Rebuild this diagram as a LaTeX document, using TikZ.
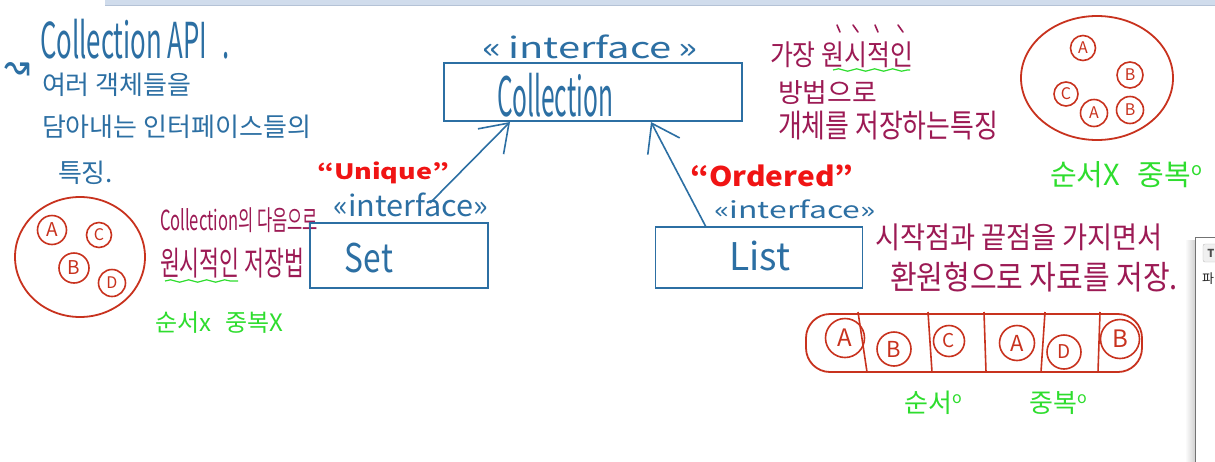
\documentclass[tikz,border=0pt]{standalone}
\usepackage{fontspec}
\usepackage{graphicx}
\setmainfont{Noto Sans CJK KR}
\newfontfamily\djv{DejaVu Sans}
\usetikzlibrary{arrows.meta,decorations.pathmorphing}
\definecolor{hblue}{HTML}{2C6FA3}
\definecolor{hmag}{HTML}{9C1A54}
\definecolor{hred}{HTML}{F01414}
\definecolor{cred}{HTML}{C8321E}
\definecolor{hgreen}{HTML}{2EDD2E}
\definecolor{barfill}{HTML}{D0DCEC}
\definecolor{barline}{HTML}{B4C2D6}
\newcommand{\fsz}[1]{\fontsize{#1}{#1}\selectfont}
\newcommand{\fitto}[3]{\resizebox*{#1pt}{#2pt}{#3}}
\begin{document}
\begin{tikzpicture}[x=1pt,y=-1pt,
  txt/.style={inner sep=0pt,outer sep=0pt},
  bluet/.style={txt,text=hblue},
  magt/.style={txt,text=hmag,anchor=west},
  greent/.style={txt,text=hgreen},
  redt/.style={txt,text=hred},
  umlbox/.style={draw=hblue,line width=1.6pt,inner sep=0pt},
  uarrow/.style={draw=hblue,line width=1.6pt,-{Straight Barb[length=26pt,width=36pt]}},
  blob/.style={draw=cred,line width=1.8pt},
  ci/.style={draw=cred,line width=1.6pt,circle,inner sep=0pt,text=cred,font=\fsz{19}},
  cis/.style={ci,font=\fsz{16}},
  wavy/.style={draw=hgreen,line width=1.2pt,decorate,decoration={snake,amplitude=1.2pt,segment length=18pt}}
]
\useasboundingbox (0,0) rectangle (1215,461);
\fill[white] (0,0) rectangle (1215,461);
% top bar
\fill[barfill] (105,0) rectangle (1215,5);
\draw[barline,line width=1pt] (105,5.5) -- (1215,5.5);

% ---------- left notes ----------
\node[bluet,anchor=west] (capi) at (40,39) {\fitto{190}{40}{Collection API\hspace{6pt}.}};
\node[bluet] (sq) at (18,71) {\fitto{26}{18}{\djv ↝}};
\node[bluet,anchor=west,font=\fsz{26}] (t1) at (42,85) {여러 객체들을};
\node[bluet,anchor=west,font=\fsz{26}] (t2) at (42,127) {담아내는 인터페이스들의};
\node[bluet,anchor=west,font=\fsz{26}] (t3) at (58,173) {특징.};

% left set blob
\draw[blob] (80,257) ellipse [x radius=65, y radius=60];
\node[ci,minimum size=29pt] (la) at (52,230) {A};
\node[cis,minimum size=25pt] (lc) at (99,235) {C};
\node[ci,minimum size=30pt] (lb) at (74,268) {B};
\node[cis,minimum size=27pt] (ld) at (112,283) {D};

\node[magt] (m1) at (160,220) {\fitto{158}{25}{Collection의 다음으로}};
\node[magt] (m2) at (160,263) {\fitto{144}{30}{원시적인 저장법}};
\coordinate (w1a) at (165,281);
\coordinate (w1b) at (238,281);
\draw[wavy] (w1a) -- (w1b);
\node[greent,anchor=west,font=\fsz{24}] (g1) at (155,323) {순서x\hspace{14pt}중복X};

% ---------- UML ----------
\node[umlbox,minimum width=298pt,minimum height=58pt] (coll) at (593,92) {};
\node[bluet] (colltxt) at (555,95) {\fitto{116}{44}{Collection}};
\node[bluet] (collst) at (590,47) {\fitto{215}{24}{«\,interface\,»}};

\node[umlbox,minimum width=178pt,minimum height=65pt] (set) at (399,255.5) {};
\node[bluet] (settxt) at (369,258) {\fitto{48}{30}{Set}};
\node[bluet] (setst) at (411,205) {\fitto{155}{24}{«interface»}};
\node[redt] (uniq) at (383,173) {\fitto{132}{22}{\bfseries “Unique”}};

\node[umlbox,minimum width=207pt,minimum height=61pt] (list) at (759,257.5) {};
\node[bluet] (listtxt) at (760,256) {\fitto{61}{30}{List}};
\node[bluet] (listst) at (795,209) {\fitto{161}{19}{«interface»}};
\node[redt] (ord) at (772,176) {\fitto{163}{22}{\bfseries “Ordered”}};

\coordinate (setTail) at (430,203);
\coordinate (setTip) at (510,122);
\draw[uarrow] (setTail) -- (setTip);
\coordinate (listTail) at (706,227);
\coordinate (listTip) at (651,122);
\draw[uarrow] (listTail) -- (listTip);

% ---------- right top ----------
\node[magt] (r1) at (770,55) {\fitto{143}{26}{가장 원시적인}};
\node[magt] (r2) at (778,93) {\fitto{99}{24}{방법으로}};
\node[magt] (r3) at (778,126) {\fitto{220}{29}{개체를 저장하는특징}};
\foreach \a/\b in {837/840,853/858,875/878,898/903}
  \draw[hmag,line width=1.6pt,line cap=round] (\a,25) -- (\b,32);
\coordinate (w2a) at (833,70);
\coordinate (w2b) at (910,70);
\draw[wavy] (w2a) -- (w2b);

\draw[blob] (1097,78) ellipse [x radius=76, y radius=62];
\node[cis,minimum size=25pt] (ra1) at (1083,48) {A};
\node[cis,minimum size=26pt] (rb1) at (1130,75) {B};
\node[cis,minimum size=24pt] (rc) at (1066,94) {C};
\node[cis,minimum size=27pt] (ra2) at (1094,113) {A};
\node[cis,minimum size=27pt] (rb2) at (1130,110) {B};
\node[greent,anchor=west,font=\fsz{29}] (g2) at (1050,175) {순서X\hspace{18pt}중복\raisebox{0.35em}{\fsz{18}o}};

% ---------- right bottom ----------
\node[magt] (r4) at (875,237) {\fitto{288}{27}{시작점과 끝점을 가지면서}};
\node[magt] (r5) at (890,277) {\fitto{288}{30}{환원형으로 자료를 저장.}};

\draw[blob,rounded corners=24pt] (806,314) rectangle (1142,372);
\foreach \a/\b in {858/867,928/932,984/986,1045/1041,1100/1098}
  \draw[cred,line width=1.6pt] (\a,312) -- (\b,372);
\node[ci,minimum size=39pt,font=\fsz{24}] (ba1) at (845,338) {A};
\node[ci,minimum size=34pt,font=\fsz{22}] (bb1) at (894,349) {B};
\node[ci,minimum size=31pt] (bc) at (949,341) {C};
\node[ci,minimum size=35pt,font=\fsz{22}] (ba2) at (1017,343) {A};
\node[ci,minimum size=34pt] (bd) at (1064,352) {D};
\node[ci,minimum size=39pt,font=\fsz{24}] (bb2) at (1120,339) {B};
\node[greent,font=\fsz{26}] (g3) at (933,403) {순서\raisebox{0.35em}{\fsz{16}o}};
\node[greent,font=\fsz{26}] (g4) at (1058,403) {중복\raisebox{0.35em}{\fsz{16}o}};

% ---------- side window ----------
\fill[left color=white,right color=black!18] (1185,240) rectangle (1195,461);
\fill[white] (1195,237) rectangle (1230,470);
\draw[black!55,line width=1pt] (1195.5,470) -- (1195.5,237.5) -- (1230,237.5);
\draw[black!25,fill=black!6,rounded corners=2pt] (1203,244) rectangle (1225,262);
\node[txt,font=\bfseries\fsz{11},text=black!70] (tb) at (1211,253) {T};
\node[txt,font=\fsz{13},text=black!85] (pa) at (1208,279) {파};
\end{tikzpicture}
\end{document}
